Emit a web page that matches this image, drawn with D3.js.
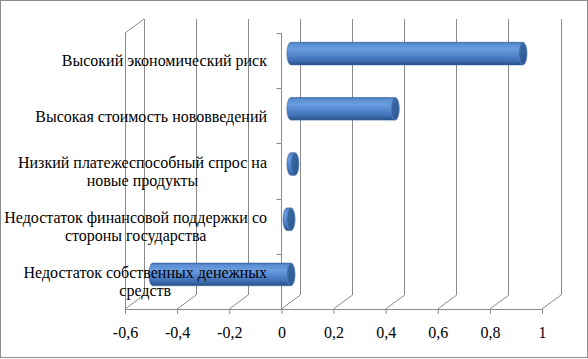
<!DOCTYPE html>
<html>
<head>
<meta charset="utf-8">
<script src="https://cdn.jsdelivr.net/npm/d3@7"></script>
<style>
html,body{margin:0;padding:0;background:#fff;}
svg{display:block;}
text{font-family:"Liberation Serif","Times New Roman",serif;font-size:16px;fill:#000;}
</style>
</head>
<body>
<svg id="chart" width="588" height="359"></svg>
<script>
const categories = [
  "Высокий экономический риск",
  "Высокая стоимость нововведений",
  "Низкий платежеспособный спрос на новые продукты",
  "Недостаток финансовой поддержки со стороны государства",
  "Недостаток собственных денежных средств"
];
const labelLines = [
  ["Высокий экономический риск"],
  ["Высокая стоимость нововведений"],
  ["Низкий платежеспособный спрос на", "новые продукты"],
  ["Недостаток финансовой поддержки со", "стороны государства"],
  ["Недостаток собственных денежных", "средств"]
];
const values = [0.89, 0.40, 0.015, -0.015, -0.53];
const tickValues = [-0.6, -0.4, -0.2, 0, 0.2, 0.4, 0.6, 0.8, 1];
const tickLabels = ["-0,6", "-0,4", "-0,2", "0", "0,2", "0,4", "0,6", "0,8", "1"];

(function () {
const svg = d3.select("#chart");
const W = 588, H = 359;
const depthX = 19, depthY = -14;
const gridColor = "#8a8a8a";

const x = d3.scaleLinear().domain([-0.6, 1]).range([125, 542]);
const y = d3.scaleBand().domain(categories).range([33, 309]).padding(0);

// border
svg.append("rect").attr("x", 0.5).attr("y", 0.5).attr("width", W - 1).attr("height", H - 2)
  .attr("fill", "#fff").attr("stroke", "#8c8c8c").attr("stroke-width", 1);

const defs = svg.append("defs");
const grad = defs.append("linearGradient").attr("id", "cyl").attr("x1", 0).attr("y1", 0).attr("x2", 0).attr("y2", 1);
[[0, "#3e6aa6"], [0.08, "#5a8dd2"], [0.3, "#6b9de0"], [0.55, "#5587cf"], [0.8, "#3f6fb4"], [1, "#2a5088"]]
  .forEach(([o, c]) => grad.append("stop").attr("offset", o).attr("stop-color", c));
const capGrad = defs.append("linearGradient").attr("id", "cap").attr("x1", 0).attr("y1", 0).attr("x2", 1).attr("y2", 1);
[[0, "#3f6cab"], [1, "#2b548c"]].forEach(([o, c]) => capGrad.append("stop").attr("offset", o).attr("stop-color", c));

const yTop = y.range()[0], yBot = y.range()[1];
const g = svg.append("g");

// back wall gridlines
g.selectAll(".vgrid").data(tickValues).join("line")
  .attr("x1", d => x(d) + depthX).attr("x2", d => x(d) + depthX)
  .attr("y1", yTop + depthY).attr("y2", yBot + depthY)
  .attr("stroke", gridColor).attr("stroke-width", 1).attr("shape-rendering", "crispEdges");
// floor diagonals
g.selectAll(".fgrid").data(tickValues).join("line")
  .attr("x1", d => x(d)).attr("y1", yBot)
  .attr("x2", d => x(d) + depthX).attr("y2", yBot + depthY)
  .attr("stroke", gridColor).attr("stroke-width", 1);
// left wall front edge and top diagonal
const x0w = x.domain()[0];
g.append("line").attr("x1", x(x0w)).attr("x2", x(x0w)).attr("y1", yTop).attr("y2", yBot)
  .attr("stroke", gridColor).attr("shape-rendering", "crispEdges");
g.append("line").attr("x1", x(x0w)).attr("y1", yTop).attr("x2", x(x0w) + depthX).attr("y2", yTop + depthY)
  .attr("stroke", gridColor);

// value axis (front floor edge)
const xAxis = d3.axisBottom(x).tickValues(tickValues).tickSize(5).tickSizeOuter(0)
  .tickFormat((d, i) => tickLabels[i]);
const ax = svg.append("g").attr("transform", `translate(0,${yBot})`).call(xAxis);
ax.select(".domain").attr("stroke", gridColor);
ax.selectAll(".tick line").attr("stroke", gridColor);
ax.selectAll(".tick text").attr("font-family", "Liberation Serif, serif").attr("font-size", 16)
  .attr("fill", "#000").attr("y", 0).attr("dy", null).attr("transform", "translate(0,29)");

// category axis at 0
const cx0 = Math.round(x(0)) + 0.5;
svg.append("line").attr("x1", cx0).attr("x2", cx0).attr("y1", yTop).attr("y2", yBot).attr("stroke", gridColor);
const bounds = categories.map(c => y(c)).concat([yBot]);
svg.selectAll(".ctick").data(bounds).join("line")
  .attr("x1", cx0 - 5).attr("x2", cx0).attr("y1", d => Math.round(d) + 0.5).attr("y2", d => Math.round(d) + 0.5)
  .attr("stroke", gridColor);

// bars (cylinders)
const ry = y.bandwidth() * 0.205, rx = 4;
const bars = svg.append("g");
categories.forEach((c, i) => {
  const v = values[i];
  const cy = y(c) + y.bandwidth() / 2 + depthY / 2;
  const xa = x(Math.min(0, v)) + depthX / 2;
  const xb = x(Math.max(0, v)) + depthX / 2;
  const p = `M${xa},${cy - ry} L${xb},${cy - ry} A${rx},${ry} 0 0 1 ${xb},${cy + ry} L${xa},${cy + ry} A${rx},${ry} 0 0 1 ${xa},${cy - ry} Z`;
  bars.append("path").attr("d", p).attr("fill", "url(#cyl)").attr("stroke", "#3a66a0").attr("stroke-width", 0.6);
  bars.append("ellipse").attr("cx", xb).attr("cy", cy).attr("rx", rx).attr("ry", ry)
    .attr("fill", "url(#cap)").attr("stroke", "#5a86c4").attr("stroke-width", 0.7);
});

// category labels
const labelRight = 267, lineH = 17.5;
const lab = svg.append("g");
categories.forEach((c, i) => {
  const lines = labelLines[i];
  const cyc = y(c) + y.bandwidth() / 2;
  const tmp = lines.map(l => {
    const t = lab.append("text").text(l);
    const w = t.node().getComputedTextLength();
    return [t, w];
  });
  const maxW = d3.max(tmp, d => d[1]);
  const mid = labelRight - maxW / 2;
  tmp.forEach(([t, w], j) => {
    t.attr("x", mid).attr("text-anchor", "middle")
     .attr("y", cyc + 5.8 + (j - (lines.length - 1) / 2) * lineH);
  });
});
})();
</script>
</body>
</html>
